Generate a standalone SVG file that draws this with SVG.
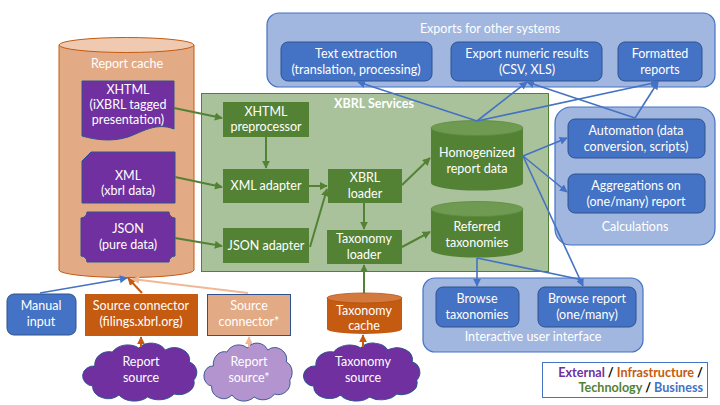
<svg xmlns="http://www.w3.org/2000/svg" xmlns:xlink="http://www.w3.org/1999/xlink" width="720" height="405" viewBox="0 0 720 405">
<style>
text{font-family:Lato,"Open Sans","Liberation Sans",sans-serif;font-size:12.5px;fill:#fff;text-anchor:middle}
.b{font-weight:bold}
.grp{fill:#a1b7e0;stroke:#4472c4;stroke-width:1.2}
.bl{fill:#4472c4;stroke:#2f528f;stroke-width:1}
.gr{fill:#548235;stroke:none}
.pu{fill:#7030a0;stroke:#2f528f;stroke-width:1}
.or{fill:#c55a11;stroke:none}
.cg{fill:none;stroke:#548235;stroke-width:2;marker-end:url(#ag)}
.cb{fill:none;stroke:#4472c4;stroke-width:1.6;marker-end:url(#ab)}
.cbn{fill:none;stroke:#4472c4;stroke-width:1.6}
.co{fill:none;stroke:#c55a11;stroke-width:2;marker-end:url(#ao)}
.cl{fill:none;stroke:#f0b896;stroke-width:2;marker-end:url(#al)}
</style>
<defs>
<marker id="ag" viewBox="0 0 10 10" refX="9" refY="5" markerWidth="4" markerHeight="4" orient="auto"><path d="M0,0 L10,5 L0,10 Z" fill="#548235"/></marker>
<marker id="ab" viewBox="0 0 10 10" refX="9" refY="5" markerWidth="5" markerHeight="5" orient="auto"><path d="M0,0 L10,5 L0,10 Z" fill="#4472c4"/></marker>
<marker id="ao" viewBox="0 0 10 10" refX="9" refY="5" markerWidth="4" markerHeight="4" orient="auto"><path d="M0,0 L10,5 L0,10 Z" fill="#c55a11"/></marker>
<marker id="al" viewBox="0 0 10 10" refX="9" refY="5" markerWidth="4" markerHeight="4" orient="auto"><path d="M0,0 L10,5 L0,10 Z" fill="#f0b896"/></marker>
<path id="cloud" d="M-42,-6 A13,13 0 0 1 -26,-20 A16,14 0 0 1 -2,-24 A14,12 0 0 1 22,-22 A14,12 0 0 1 44,-10 A10,11 0 0 1 48,8 A14,12 0 0 1 30,22 A16,12 0 0 1 6,25 A16,12 0 0 1 -20,23 A14,12 0 0 1 -44,14 A10,10 0 0 1 -42,-6 Z"/>
</defs>

<!-- Report cache -->
<g id="report-cache">
<path d="M59,45 V270 A67.5,7.5 0 0 0 194,270 V45 Z" fill="#e3aa86" stroke="#c55a11" stroke-width="1"/>
<ellipse cx="126.5" cy="45" rx="67.5" ry="7.5" fill="#efcab1" stroke="#c55a11" stroke-width="1"/>
<text x="127" y="68">Report cache</text>
</g>
<g id="xhtml-doc">
<path class="pu" d="M82,81 H174 V129 C156,122 142,132 128,137 C112,142 96,140 82,136 Z"/>
<text x="128" y="94">XHTML</text>
<text x="128" y="109">(iXBRL tagged</text>
<text x="128" y="124">presentation)</text>
</g>
<g id="xml-doc">
<path class="pu" d="M91,152 H175 V203 H82 V161 Z"/>
<text x="128" y="180">XML</text>
<text x="128" y="195">(xbrl data)</text>
</g>
<g id="json-doc">
<path class="pu" d="M87,212 H169 A6,6 0 0 0 175,218 V256 A6,6 0 0 0 169,262 H87 A6,6 0 0 0 81,256 V218 A6,6 0 0 0 87,212 Z"/>
<text x="128" y="233">JSON</text>
<text x="128" y="249">(pure data)</text>
</g>

<!-- XBRL services -->
<g id="xbrl-services">
<rect x="201.5" y="93.5" width="347" height="178" fill="#a9c29b" stroke="#548235" stroke-width="1"/>
<text x="374" y="108" class="b">XBRL Services</text>
</g>
<g id="xhtml-pre"><rect class="gr" x="223" y="102" width="86" height="35"/><text x="266" y="116">XHTML</text><text x="266" y="131">preprocessor</text></g>
<g id="xml-adapter"><rect class="gr" x="223" y="169" width="86" height="34"/><text x="266" y="190">XML adapter</text></g>
<g id="json-adapter"><rect class="gr" x="223" y="228" width="86" height="35"/><text x="266" y="250">JSON adapter</text></g>
<g id="xbrl-loader"><rect class="gr" x="328" y="169" width="74" height="34"/><text x="365" y="182">XBRL</text><text x="365" y="198">loader</text></g>
<g id="tax-loader"><rect class="gr" x="327" y="230" width="75" height="34"/><text x="364" y="243">Taxonomy</text><text x="364" y="259">loader</text></g>
<g id="homogenized">
<path d="M431,128 V183 A46,7.5 0 0 0 523,183 V128 Z" fill="#548235"/>
<ellipse cx="477" cy="128" rx="46" ry="7.5" fill="#6e9a52" stroke="#5e8a40" stroke-width="0.8"/>
<text x="477" y="157">Homogenized</text><text x="477" y="173">report data</text>
</g>
<g id="referred">
<path d="M431,209 V250 A46,7.5 0 0 0 523,250 V209 Z" fill="#548235"/>
<ellipse cx="477" cy="209" rx="46" ry="7.5" fill="#6e9a52" stroke="#5e8a40" stroke-width="0.8"/>
<text x="477" y="231">Referred</text><text x="477" y="247">taxonomies</text>
</g>

<!-- Exports -->
<g id="exports">
<rect class="grp" x="267" y="13" width="448" height="74" rx="12"/>
<text x="490" y="33">Exports for other systems</text>
</g>
<g id="text-extraction"><rect class="bl" x="281" y="42" width="151" height="39" rx="7"/><text x="356" y="58">Text extraction</text><text x="356" y="74">(translation, processing)</text></g>
<g id="export-numeric"><rect class="bl" x="451" y="42" width="151" height="39" rx="7"/><text x="527" y="58">Export numeric results</text><text x="527" y="74">(CSV, XLS)</text></g>
<g id="formatted"><rect class="bl" x="618" y="42" width="84" height="39" rx="7"/><text x="660" y="58">Formatted</text><text x="660" y="74">reports</text></g>

<!-- Calculations -->
<g id="calculations">
<rect class="grp" x="555" y="107" width="160" height="138" rx="16"/>
<text x="635" y="231">Calculations</text>
</g>
<g id="automation"><rect class="bl" x="568" y="119" width="137" height="39" rx="7"/><text x="636" y="135">Automation (data</text><text x="636" y="151">conversion, scripts)</text></g>
<g id="aggregations"><rect class="bl" x="568" y="174" width="137" height="39" rx="7"/><text x="636" y="190">Aggregations on</text><text x="636" y="206">(one/many) report</text></g>

<!-- Interactive UI -->
<g id="ui">
<rect class="grp" x="423" y="278" width="220" height="74" rx="12"/>
<text x="533" y="341">Interactive user interface</text>
</g>
<g id="browse-tax"><rect class="bl" x="436" y="287" width="83" height="40" rx="7"/><text x="477" y="303">Browse</text><text x="477" y="319">taxonomies</text></g>
<g id="browse-report"><rect class="bl" x="538" y="287" width="98" height="40" rx="7"/><text x="587" y="303">Browse report</text><text x="587" y="319">(one/many)</text></g>

<!-- Bottom -->
<g id="manual-input"><rect class="bl" x="7" y="294" width="69" height="41" rx="7"/><text x="41" y="310">Manual</text><text x="41" y="326">input</text></g>
<g id="source-connector"><rect class="or" x="85" y="294" width="113" height="42"/><text x="141" y="310">Source connector</text><text x="141" y="326">(filings.xbrl.org)</text></g>
<g id="source-connector2"><rect x="207.5" y="294.5" width="83" height="41" fill="#e3aa86" stroke="#2f528f" stroke-width="1"/><text x="249" y="310">Source</text><text x="249" y="326">connector*</text></g>
<g id="tax-cache">
<path d="M327,298 V329 A37.5,5 0 0 0 402,329 V298 Z" fill="#c55a11"/>
<ellipse cx="364.5" cy="298" rx="37.5" ry="5" fill="#d47a3e" stroke="#b45210" stroke-width="0.8"/>
<text x="364" y="315">Taxonomy</text><text x="364" y="330">cache</text>
</g>
<g id="report-source"><use xlink:href="#cloud" transform="translate(141,372) scale(1.1,1.0)" fill="#7030a0" stroke="#2f528f" stroke-width="0.9"/><text x="141" y="366">Report</text><text x="141" y="382">source</text></g>
<g id="report-source2"><use xlink:href="#cloud" transform="translate(249,372) scale(0.85,1.0)" fill="#b394cf" stroke="#2f528f" stroke-width="1"/><text x="249" y="366">Report</text><text x="249" y="382">source*</text></g>
<g id="taxonomy-source"><use xlink:href="#cloud" transform="translate(363,372) scale(1.12,1.0)" fill="#7030a0" stroke="#2f528f" stroke-width="0.9"/><text x="363" y="366">Taxonomy</text><text x="363" y="382">source</text></g>

<!-- Legend -->
<g id="legend">
<rect x="542.5" y="362.5" width="165" height="35" fill="#fff" stroke="#4472c4" stroke-width="1"/>
<text x="703" y="377" class="b" style="text-anchor:end;font-size:12.6px"><tspan fill="#7030a0">External</tspan><tspan fill="#000"> / </tspan><tspan fill="#c55a11">Infrastructure</tspan><tspan fill="#000"> /</tspan></text>
<text x="703" y="392" class="b" style="text-anchor:end;font-size:12.6px"><tspan fill="#548235">Technology</tspan><tspan fill="#000"> / </tspan><tspan fill="#4472c4">Business</tspan></text>
</g>

<!-- Connectors -->
<g id="connectors">
<path class="cg" d="M174,108 L222,118"/>
<path class="cg" d="M175,177 L222,187"/>
<path class="cg" d="M175,238 L222,246"/>
<path class="cg" d="M266,137 V168"/>
<path class="cg" d="M309,186 H327"/>
<path class="cg" d="M310,247 L327,189"/>
<path class="cg" d="M364,203 V229"/>
<path class="cg" d="M402,185 L430,158"/>
<path class="cg" d="M402,247 L430,232"/>
<path class="cg" d="M364,293 V265"/>
<path class="cb" d="M477,121 L358,82"/>
<path class="cb" d="M477,121 L527,82"/>
<path class="cb" d="M477,121 L658,82"/>
<path class="cb" d="M635,118 L527,82"/>
<path class="cb" d="M635,118 L658,82"/>
<path class="cb" d="M523,156 L567,138"/>
<path class="cb" d="M523,156 L567,192"/>
<path class="cb" d="M523,156 L583,286"/>
<path class="cb" d="M477,258 V286"/>
<path class="cbn" d="M477,258 L583,280"/>
<path class="cb" d="M40,293 L127,278"/>
<path class="co" d="M142,293 L128,278"/>
<path class="cl" d="M248,293 L132,279"/>
<path class="co" d="M141,347 V337"/>
<path class="cl" d="M249,347 V337"/>
<path class="co" d="M363,347 V335"/>
</g>
</svg>
